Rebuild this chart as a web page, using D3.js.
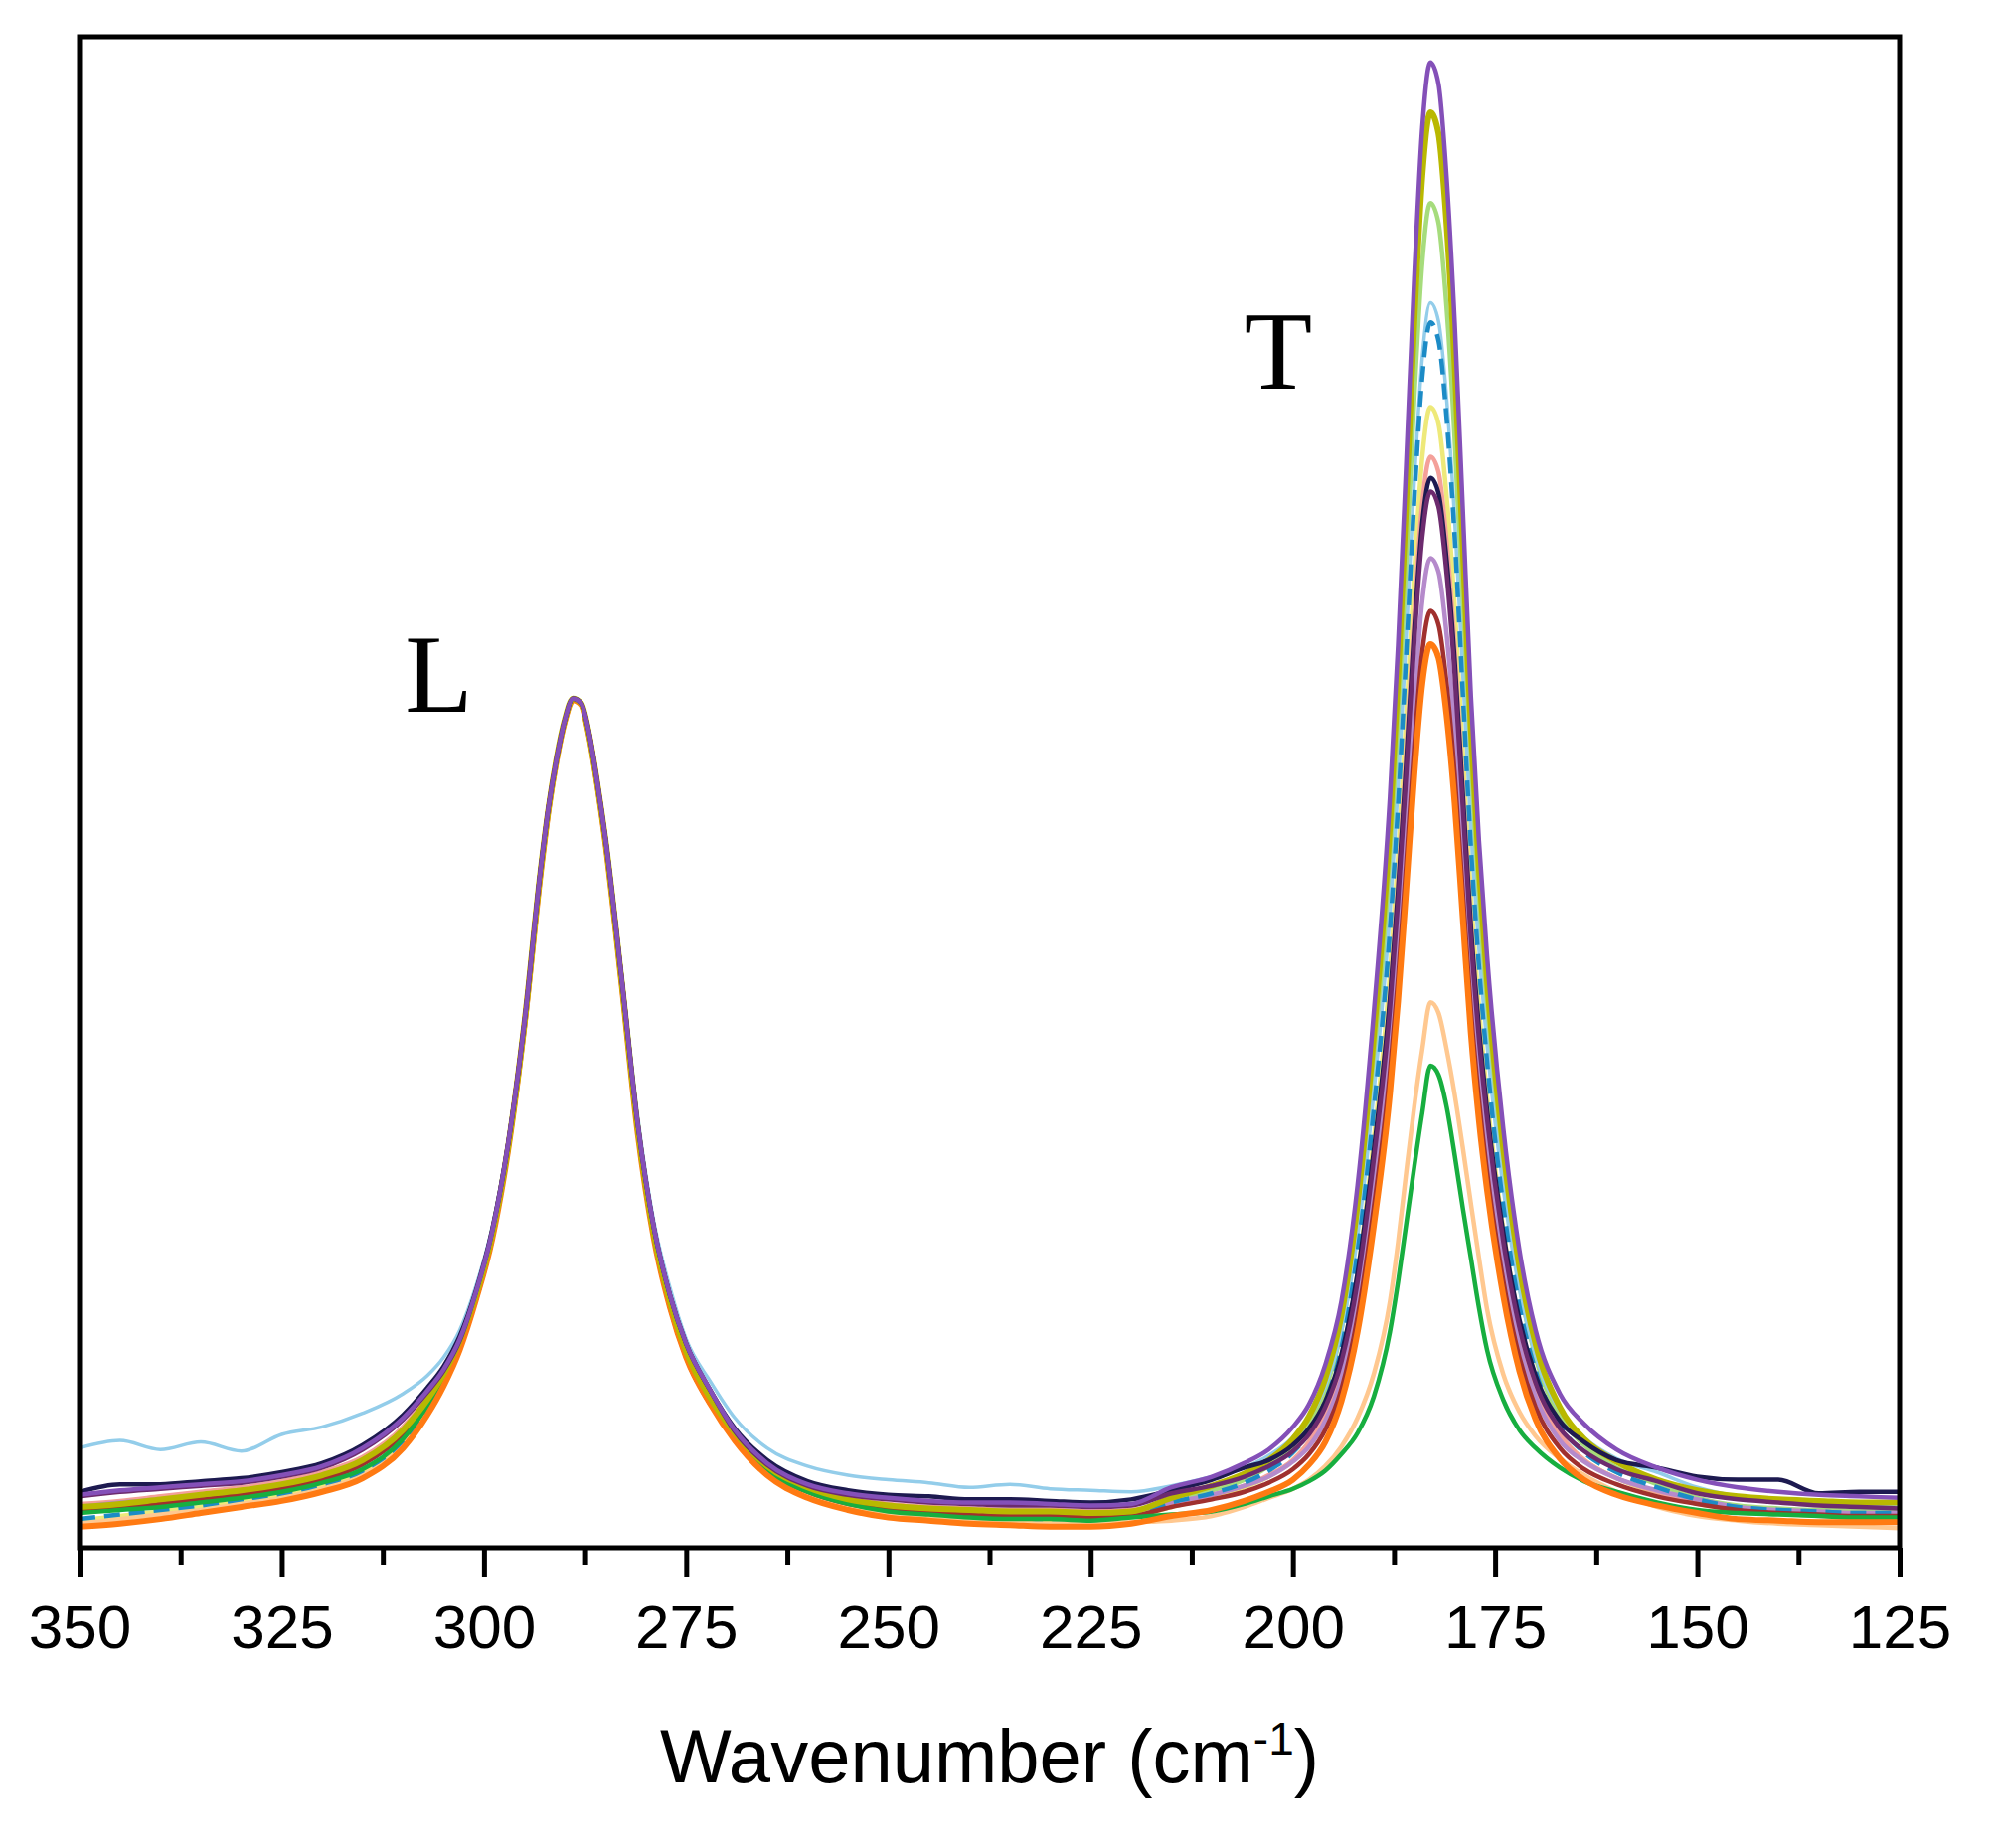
<!DOCTYPE html>
<html><head><meta charset="utf-8">
<script src="https://cdn.jsdelivr.net/npm/d3@7"></script>
<style>body{margin:0;background:#fff}</style>
</head><body><svg id="c" width="2008" height="1859"></svg>
<script>
// ---------- DATA ----------
const wavenumbers = [350,345,340,335,330,325,320,315,310,307,305,303,301,299,297,295,293,292,291,290,289,288,287,286,285,283,281,279,277,275,272,269,265,260,255,250,245,240,235,230,225,220,215,210,206,203,200,198,196,194,192,190,188,187,186,185,184,183,182,181,180,179,178,177,176,174,172,170,167,164,160,155,150,145,140,135,130,125];

const violet = [3.5,3.8,4.0,4.2,4.4,4.8,5.4,6.6,8.6,10.4,11.8,13.8,
 16.9,20.9,26.8,34.8,44.9,49.1,52.3,54.8,56.2,55.9,53.9,50.7,47.0,37.8,28.1,21.2,16.7,13.5,10.4,
 7.8,5.6,4.2,3.6,3.3,3.1,3.0,3.0,2.9,2.8,2.9,
 4.0,4.7,5.6,6.5,8.0,9.5,12.1,16.3,24.0,35.4,49.7,59.7,71.6,84.0,94.0,98.3,96.9,90.7,81.1,68.8,56.4,46.8,39.2,27.8,19.7,14.4,10.2,8.2,6.5,5.3,4.5,4.0,3.7,3.5,3.4,3.3];
const navy = [3.7,4.2,4.2,4.4,4.6,5.0,5.6,6.8,8.8,10.6,12.0,14.0,
 17.0,21.0,26.8,34.8,44.9,49.1,52.3,54.8,56.2,55.9,53.9,50.7,47.0,37.8,28.1,21.2,16.7,13.5,10.4,
 7.9,5.8,4.4,3.8,3.5,3.4,3.2,3.2,3.1,3.0,3.2,
 3.8,4.5,5.3,5.8,6.8,7.9,9.7,12.8,18.2,26.3,36.4,43.5,51.9,60.7,67.8,70.8,69.8,65.4,58.7,49.9,41.1,34.4,29.0,20.9,15.1,11.4,8.4,7.0,5.8,5.3,4.7,4.5,4.5,3.6,3.7,3.7];
const plum = [3.4,3.7,3.9,4.1,4.3,4.7,5.3,6.5,8.5,10.3,11.7,13.7,
 16.9,20.9,26.8,34.8,44.9,49.1,52.3,54.8,56.2,55.9,53.9,50.7,47.0,37.8,28.1,21.2,16.7,13.5,10.4,
 7.7,5.5,4.1,3.5,3.2,3.0,2.9,2.8,2.8,2.7,2.8,
 3.6,4.1,4.7,5.4,6.4,7.5,9.3,12.3,17.6,25.7,35.7,42.8,51.1,59.9,66.9,69.9,68.9,64.5,57.8,49.1,40.4,33.7,28.4,20.3,14.6,10.9,7.9,6.4,5.2,4.4,3.6,3.2,3.0,2.8,2.7,2.6];
const olive = [2.7,2.9,3.2,3.5,3.8,4.2,4.8,5.8,7.8,9.8,11.5,13.7,
 16.7,20.7,26.6,34.7,44.8,49.0,52.3,54.8,56.2,55.9,53.8,50.6,46.9,37.6,27.8,20.8,16.3,13.0,9.9,
 7.6,5.4,4.0,3.2,2.8,2.6,2.5,2.4,2.4,2.3,2.4,
 3.3,4.1,4.9,5.8,7.2,8.7,11.2,15.4,22.8,33.9,47.8,57.5,69.1,81.1,90.8,95.0,93.6,87.6,78.3,66.3,54.3,45.0,37.6,26.5,18.6,13.5,9.3,7.2,5.7,4.5,3.8,3.4,3.2,3.1,3.0,3.0];
const lightGreen = [2.5,2.7,3.0,3.3,3.6,4.0,4.6,5.6,7.6,9.6,11.3,13.5,
 16.7,20.7,26.6,34.7,44.8,49.0,52.3,54.8,56.2,55.9,53.8,50.6,46.9,37.6,27.8,20.8,16.3,13.0,9.9,
 7.5,5.2,3.8,3.0,2.6,2.4,2.3,2.2,2.2,2.1,2.2,
 3.1,3.8,4.5,5.4,6.7,8.1,10.4,14.4,21.3,31.7,44.7,53.8,64.7,76.0,85.1,89.0,87.7,82.1,73.4,62.1,50.8,42.1,35.2,24.8,17.4,12.6,8.7,6.8,5.3,4.2,3.3,2.8,2.6,2.5,2.5,2.5];
const skyBlue = [6.6,7.1,6.5,7.0,6.4,7.5,8.0,8.9,10.2,11.4,12.6,14.4,
 17.3,21.2,27.0,35.0,44.9,49.1,52.3,54.8,56.2,55.9,53.9,50.8,47.2,38.2,28.6,21.6,17.2,13.8,11.0,
 8.6,6.6,5.4,4.8,4.5,4.3,4.0,4.2,3.9,3.8,3.7,
 4.1,4.7,5.3,6.1,7.3,8.6,10.7,14.3,20.6,30.1,42.0,50.3,60.2,70.5,78.8,82.4,81.2,76.1,68.1,57.9,47.6,39.6,33.3,23.8,17.1,12.7,9.1,7.3,5.9,5.0,4.0,3.4,3.1,2.9,2.8,2.7];
const teal = [1.9,2.2,2.5,2.8,3.2,3.6,4.2,5.1,7.1,9.3,11.2,13.5,
 16.4,20.4,26.4,34.6,44.6,48.9,52.2,54.7,56.1,55.8,53.7,50.5,46.7,37.4,27.5,20.5,15.9,12.6,9.5,
 7.5,5.2,3.8,3.0,2.5,2.3,2.1,2.0,1.9,1.9,2.1,
 3.0,3.6,4.3,5.1,6.3,7.6,9.7,13.2,19.6,29.0,40.9,49.1,59.0,69.3,77.5,81.1,79.9,74.8,66.9,56.6,46.4,38.5,32.2,22.7,16.0,11.7,8.1,6.3,5.0,4.0,3.2,2.7,2.5,2.4,2.3,2.3];
const lightYellow = [1.8,2.1,2.4,2.7,3.1,3.5,4.1,5.0,7.0,9.2,11.1,13.4,
 16.4,20.4,26.4,34.6,44.6,48.9,52.2,54.7,56.1,55.8,53.7,50.5,46.7,37.4,27.5,20.5,15.9,12.6,9.5,
 7.4,5.1,3.7,2.9,2.4,2.2,2.0,1.9,1.8,1.8,2.0,
 2.7,3.3,4.0,4.7,5.8,7.0,9.0,12.3,18.2,27.0,38.0,45.7,54.9,64.5,72.2,75.5,74.4,69.6,62.3,52.7,43.2,35.8,29.9,21.1,14.9,10.8,7.5,5.8,4.6,3.6,2.9,2.5,2.3,2.2,2.1,2.1];
const salmon = [2.9,3.1,3.4,3.7,4.0,4.4,5.0,6.0,8.0,10.0,11.7,13.8,
 16.7,20.7,26.6,34.7,44.8,49.0,52.3,54.8,56.2,55.9,53.8,50.6,46.9,37.6,27.8,20.8,16.3,13.0,9.9,
 7.7,5.5,4.1,3.3,2.9,2.7,2.6,2.5,2.5,2.4,2.5,
 2.9,3.5,4.1,4.8,5.8,7.0,8.9,12.0,17.6,26.0,36.5,43.9,52.6,61.7,69.1,72.2,71.2,66.6,59.6,50.5,41.4,34.4,28.8,20.4,14.5,10.6,7.5,5.8,4.6,3.7,3.0,2.6,2.3,2.1,2.0,1.9];
const mauve = [2.7,3.0,3.2,3.5,3.8,4.2,4.8,5.8,7.8,9.8,11.5,13.7,
 16.7,20.7,26.6,34.7,44.8,49.0,52.3,54.8,56.2,55.9,53.8,50.6,46.9,37.6,27.8,20.8,16.3,13.0,9.9,
 7.6,5.4,4.0,3.2,2.8,2.6,2.5,2.4,2.4,2.3,2.4,
 3.0,3.5,4.1,4.7,5.7,6.7,8.4,11.2,16.3,23.9,33.3,39.9,47.8,56.0,62.7,65.5,64.6,60.5,54.1,45.9,37.7,31.4,26.4,18.8,13.4,10.0,7.1,5.7,4.6,3.8,3.2,2.7,2.5,2.4,2.3,2.3];
const maroon = [2.4,2.6,2.9,3.2,3.5,3.9,4.5,5.5,7.5,9.5,11.2,13.5,
 16.7,20.7,26.6,34.7,44.8,49.0,52.3,54.8,56.2,55.9,53.8,50.6,46.9,37.6,27.8,20.8,16.3,13.0,9.9,
 7.4,5.1,3.7,2.9,2.5,2.3,2.2,2.1,2.1,2.0,2.1,
 2.7,3.2,3.7,4.3,5.2,6.2,7.8,10.5,15.3,22.5,31.5,37.7,45.2,53.0,59.3,62.0,61.1,57.2,51.2,43.4,35.6,29.7,24.9,17.7,12.6,9.3,6.6,5.2,4.2,3.4,2.9,2.5,2.3,2.2,2.1,2.1];
const orange = [1.4,1.6,1.9,2.3,2.7,3.1,3.7,4.6,6.6,8.8,10.7,13.1,
 16.4,20.4,26.4,34.6,44.6,48.9,52.2,54.7,56.1,55.8,53.7,50.5,46.7,37.4,27.5,20.5,15.9,12.6,9.5,
 7.1,4.8,3.3,2.5,2.0,1.8,1.6,1.5,1.4,1.4,1.6,
 2.1,2.5,3.1,3.7,4.5,5.5,7.0,9.7,14.3,21.3,30.1,36.2,43.5,51.1,57.2,59.8,58.9,55.1,49.3,41.7,34.1,28.3,23.7,16.7,11.7,8.5,5.9,4.5,3.5,2.8,2.3,1.9,1.8,1.7,1.7,1.7];
const peach = [1.6,1.9,2.2,2.5,2.9,3.3,3.9,4.8,6.8,9.0,10.9,13.3,
 16.4,20.4,26.4,34.6,44.6,48.9,52.2,54.7,56.1,55.8,53.7,50.5,46.7,37.4,27.5,20.5,15.9,12.6,9.5,
 7.3,5.0,3.5,2.7,2.2,2.0,1.8,1.7,1.6,1.6,1.7,
 1.8,2.1,2.7,3.3,3.9,4.5,5.4,6.7,8.6,11.5,16.3,20.2,24.8,29.2,33.0,36.1,35.4,33.0,30.0,26.5,22.8,19.2,15.8,11.5,9.0,7.4,5.9,4.8,3.7,2.7,2.1,1.8,1.6,1.5,1.4,1.3];
const green = [2.3,2.5,2.7,3.0,3.3,3.7,4.3,5.2,7.2,9.4,11.2,13.5,
 16.4,20.4,26.4,34.6,44.6,48.9,52.2,54.7,56.1,55.8,53.7,50.5,46.7,37.4,27.5,20.5,15.9,12.6,9.5,
 7.4,5.1,3.7,2.9,2.4,2.2,2.0,1.9,1.9,1.8,2.0,
 2.2,2.4,2.9,3.4,3.9,4.4,5.1,6.2,7.6,10.0,14.3,17.6,21.4,25.2,28.8,31.9,31.3,29.2,26.0,22.5,19.2,15.9,13.1,9.8,7.8,6.6,5.3,4.4,3.7,3.0,2.5,2.3,2.2,2.1,2.0,2.0];

const seriesNames  = ["lightYellow","lightGreen","peach","salmon","mauve","skyBlue","teal","maroon","green","orange","olive","navy","plum","violet"];
const seriesValues = [lightYellow, lightGreen, peach, salmon, mauve, skyBlue, teal, maroon, green, orange, olive, navy, plum, violet];
const seriesColors = ["#EEE97A","#A6DC7C","#FFC890","#F4A09A","#B58ACB","#93CDEA","#1C8BC6","#A0302E","#17AE3F","#FF7A12","#B9B800","#1D1A50","#6C2B6E","#8450B8"];

const xTickValues = [350,325,300,275,250,225,200,175,150,125];
const xMinorTicks = [337.5,312.5,287.5,262.5,237.5,212.5,187.5,162.5,137.5];
const peakLabelText = ["L","T"];
const peakLabelWn = [309.8, 206.0];
const peakLabelI  = [55.3, 76.7];

// ---------- CHART ----------
const svg = d3.select("#c");
svg.append("rect").attr("width",2008).attr("height",1859).attr("fill","#fff");

const L = 80, R = 1911, T = 37, B = 1557;
const x = d3.scaleLinear().domain([350,125]).range([L,R]);
const y = d3.scaleLinear().domain([0,100]).range([B,T]);

svg.append("clipPath").attr("id","clip").append("rect")
  .attr("x",L).attr("y",T).attr("width",R-L).attr("height",B-T);

const line = d3.line()
  .x((d,i)=>x(wavenumbers[i]))
  .y(d=>y(d))
  .curve(d3.curveMonotoneX);

const gl = svg.append("g").attr("clip-path","url(#clip)");
seriesValues.forEach((vals,k)=>{
  const name = seriesNames[k];
  gl.append("path")
    .attr("d", line(vals))
    .attr("fill","none")
    .attr("stroke", seriesColors[k])
    .attr("stroke-width", (name==="olive"||name==="orange") ? 6 : (name==="skyBlue" ? 3.5 : 4.5))
    .attr("stroke-dasharray", name==="teal" ? "16,9" : null)
    .attr("stroke-linejoin","round");
});

// axis
const gx = svg.append("g").attr("transform",`translate(0,${B})`)
  .call(d3.axisBottom(x).tickValues(xTickValues).tickSize(29).tickPadding(28).tickFormat(d3.format("d")));
gx.select(".domain").remove();
gx.selectAll("line").attr("stroke","#000").attr("stroke-width",5);
gx.selectAll("text").attr("font-family","'Liberation Sans', Arial, sans-serif").attr("font-size",62).attr("fill","#000");

const gm = svg.append("g").attr("transform",`translate(0,${B})`)
  .call(d3.axisBottom(x).tickValues(xMinorTicks).tickSize(17).tickFormat(""));
gm.select(".domain").remove();
gm.selectAll("line").attr("stroke","#000").attr("stroke-width",5);

// frame
svg.append("rect").attr("x",L).attr("y",T).attr("width",R-L).attr("height",B-T)
  .attr("fill","none").attr("stroke","#000").attr("stroke-width",5);

// title
const title = svg.append("text")
  .attr("x",(L+R)/2).attr("y",1793)
  .attr("text-anchor","middle")
  .attr("font-family","'Liberation Sans', Arial, sans-serif")
  .attr("font-size",76).attr("fill","#000");
title.append("tspan").text("Wavenumber (cm");
title.append("tspan").attr("font-size",46).attr("dy",-28).text("-1");
title.append("tspan").attr("dy",28).text(")");

// peak labels
peakLabelText.forEach((t,i)=>{
  svg.append("text")
    .attr("x",x(peakLabelWn[i])).attr("y",y(peakLabelI[i]))
    .attr("font-family","'Liberation Serif', 'Times New Roman', serif")
    .attr("font-size",112).attr("fill","#000")
    .text(t);
});
</script>
</body></html>
